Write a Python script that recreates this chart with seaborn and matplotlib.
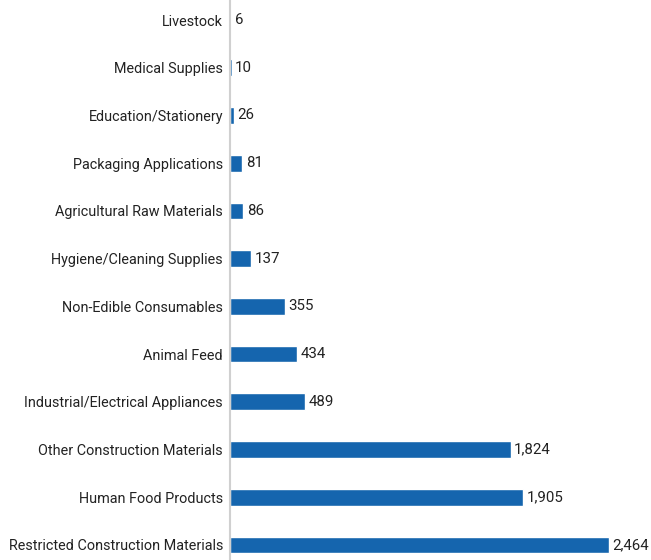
import matplotlib
matplotlib.use("Agg")
import matplotlib.pyplot as plt
import seaborn as sns
import pandas as pd

categories = ["Livestock", "Medical Supplies", "Education/Stationery", "Packaging Applications",
              "Agricultural Raw Materials", "Hygiene/Cleaning Supplies", "Non-Edible Consumables",
              "Animal Feed", "Industrial/Electrical Appliances", "Other Construction Materials",
              "Human Food Products", "Restricted Construction Materials"]
values = [6, 10, 26, 81, 86, 137, 355, 434, 489, 1824, 1905, 2464]

df = pd.DataFrame({"category": categories, "value": values})

sns.set_theme(style="white")
plt.rcParams['font.family'] = ['Roboto', 'DejaVu Sans']

fig = plt.figure(figsize=(6.51, 5.60), dpi=100)
ax = fig.add_axes([230/651, 0, 1 - 230/651, 1])
sns.barplot(data=df, y="category", x="value", color="#1565ae", saturation=1,
            width=0.35, ax=ax, orient="h")
ax.set_xlim(0, 421 / 0.1538)
ax.set_ylim(11 + 15/47.727, -20/47.727)
for i, v in enumerate(values):
    ax.text(v + 24, i, f"{v:,}", va="center", ha="left", fontsize=10.8, color="#222222")
ax.set_xlabel("")
ax.set_ylabel("")
ax.set_xticks([])
for s in ["top", "right", "bottom"]:
    ax.spines[s].set_visible(False)
ax.spines["left"].set_color("#d0d0d0")
ax.spines["left"].set_linewidth(1.5)
ax.tick_params(axis="y", length=0, pad=5, labelsize=10.4, labelcolor="#222222")
fig.savefig("out.png", dpi=100)
